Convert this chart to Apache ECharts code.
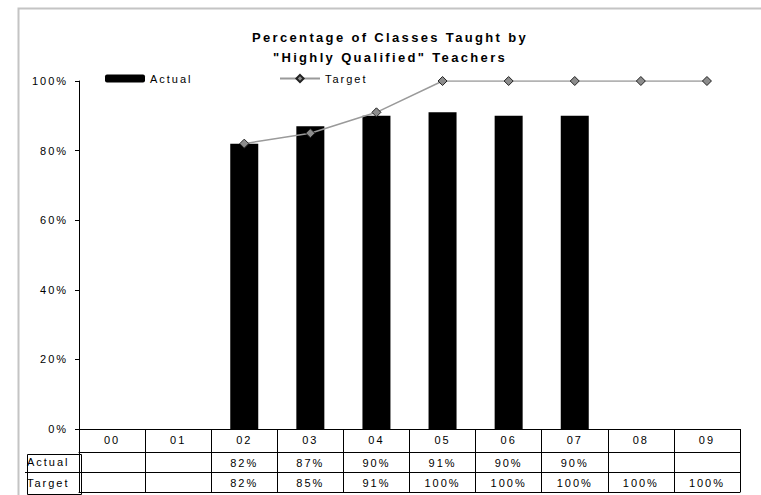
<!DOCTYPE html>
<html>
<head>
<meta charset="utf-8">
<script src="https://cdn.jsdelivr.net/npm/echarts@6/dist/echarts.min.js"></script>
<style>
    html, body { margin: 0; padding: 0; background: #fff; }
    #chart { width: 761px; height: 495px; }
    /* the original draws its text with wide tracking */
    #chart text { letter-spacing: 0.18em; }
</style>
</head>
<body>
<div id="chart"></div>
<script>
// school years, shown as two digits
const years = ['00', '01', '02', '03', '04', '05', '06', '07', '08', '09'];
// percent of classes taught by highly qualified teachers
const actual = [null, null, 82, 87, 90, 91, 90, 90, null, null];
const target = [null, null, 82, 85, 91, 100, 100, 100, 100, 100];
const yTicks = [0, 20, 40, 60, 80, 100];

const pct = (v) => (v == null ? '' : v + '%');

const chart = echarts.init(document.getElementById('chart'), null, { renderer: 'svg' });

const font = 'Liberation Sans, Arial, sans-serif';

/** one extra x axis per table row, stacked under the plot */
const tableAxis = (labels, offset, showLabel) => ({
    type: 'category',
    data: labels,
    position: 'bottom',
    offset: offset,
    axisLine: { show: true, lineStyle: { color: '#000', width: 1 } },
    axisTick: { show: false },
    axisLabel: {
        show: showLabel,
        interval: 0,
        margin: 5,
        color: '#000',
        fontSize: 11,
        fontFamily: font
    },
    splitLine: { show: false }
});

const options = {
    animation: false,
    title: {
        text: 'Percentage of Classes Taught by\n"Highly Qualified" Teachers',
        left: 385,
        textAlign: 'center',
        top: 22,
        textStyle: {
            fontSize: 13,
            fontWeight: 'bold',
            fontFamily: font,
            color: '#000',
            lineHeight: 20
        }
    },
    legend: [{
        data: ['Actual'],
        left: 105,
        top: 73,
        itemWidth: 40,
        itemHeight: 8,
        padding: 0,
        textStyle: { fontSize: 11, fontFamily: font, color: '#000' }
    }, {
        data: ['Target'],
        left: 279,
        top: 73,
        itemWidth: 40,
        itemHeight: 9,
        padding: 0,
        textStyle: { fontSize: 11, fontFamily: font, color: '#000' }
    }],
    grid: {
        left: 79,
        right: 21,
        top: 81,
        bottom: 66,
        containLabel: false
    },
    xAxis: [{
        type: 'category',
        data: years,
        position: 'bottom',
        axisLine: { lineStyle: { color: '#000', width: 1 } },
        axisTick: {
            show: true,
            interval: 0,
            length: 63,
            lineStyle: { color: '#000', width: 1 }
        },
        axisLabel: {
            interval: 0,
            margin: 5,
            color: '#000',
            fontSize: 11,
            fontFamily: font
        }
    },
        tableAxis(actual.map(pct), 23, true),
        tableAxis(target.map(pct), 43, true),
        tableAxis(years.map(() => ''), 63, false)
    ],
    yAxis: {
        type: 'value',
        min: yTicks[0],
        max: yTicks[yTicks.length - 1],
        interval: 20,
        axisLine: { show: true, lineStyle: { color: '#000', width: 1 } },
        axisTick: { show: true, length: 4, lineStyle: { color: '#000' } },
        axisLabel: {
            formatter: '{value}%',
            margin: 11,
            color: '#000',
            fontSize: 11,
            fontFamily: font
        },
        splitLine: { show: false }
    },
    series: [{
        name: 'Actual',
        type: 'bar',
        data: actual,
        barWidth: 28,
        itemStyle: { color: '#000' }
    }, {
        name: 'Target',
        type: 'line',
        data: target,
        symbol: 'diamond',
        symbolSize: 9,
        connectNulls: false,
        z: 5,
        lineStyle: { color: '#9a9a9a', width: 1.5 },
        itemStyle: { color: '#8c8c8c', borderColor: '#222', borderWidth: 1 }
    }],
    graphic: [{
        // outer chart frame
        type: 'rect',
        left: 16,
        top: 6,
        shape: { width: 800, height: 600 },
        style: { fill: 'none', stroke: '#c4c4c4', lineWidth: 2 },
        silent: true
    }, {
        // row header cells of the data table
        type: 'rect',
        left: 25,
        top: 452,
        shape: { width: 54, height: 40 },
        style: { fill: 'none', stroke: '#000', lineWidth: 1 },
        silent: true
    }, {
        type: 'line',
        shape: { x1: 25, y1: 472.5, x2: 79, y2: 472.5 },
        style: { stroke: '#000', lineWidth: 1 },
        silent: true
    }, {
        type: 'text',
        left: 27,
        top: 456,
        style: { text: 'Actual', fontSize: 11, fontFamily: font, fill: '#000' }
    }, {
        type: 'text',
        left: 27,
        top: 477,
        style: { text: 'Target', fontSize: 11, fontFamily: font, fill: '#000' }
    }]
};

chart.setOption(options);
</script>
</body>
</html>
